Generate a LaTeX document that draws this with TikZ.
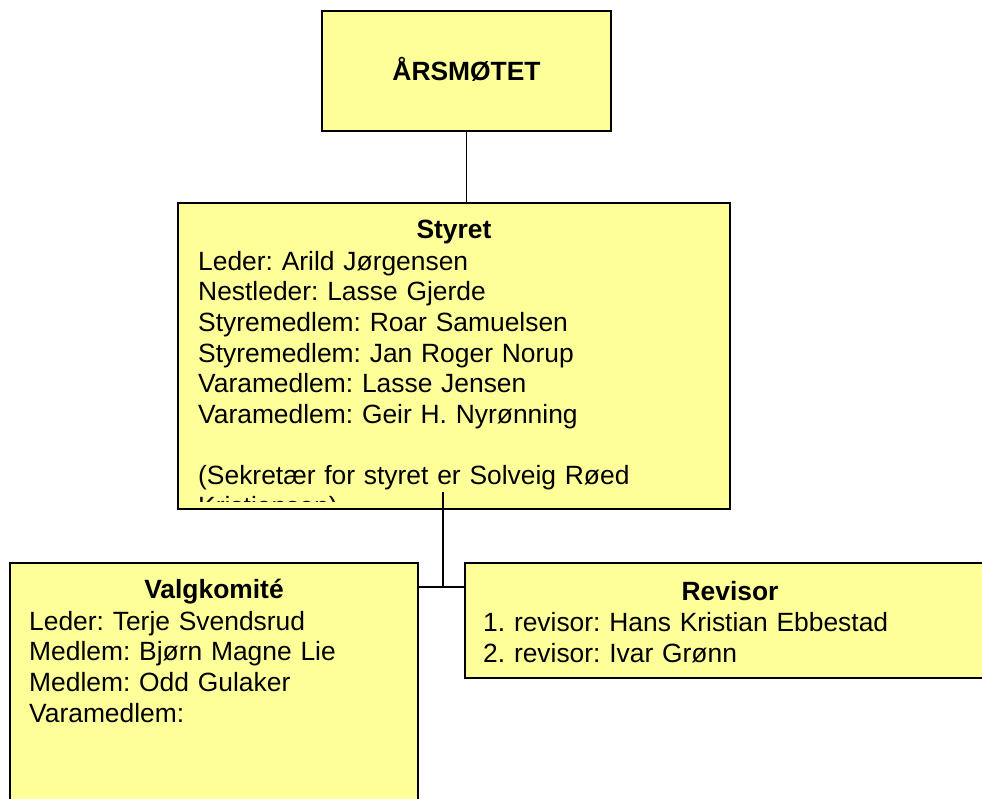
\documentclass[tikz,border=0pt]{standalone}
\usepackage{fontspec}
\setmainfont{Liberation Sans}
\frenchspacing
\usepackage{tikz}
\usetikzlibrary{positioning}
\definecolor{boxfill}{RGB}{255,255,153}
\tikzstyle{orgbox}=[rectangle, draw=black, fill=boxfill, line width=1.3pt, anchor=north west, inner sep=0pt, outer sep=0pt]
\tikzstyle{orgtitle}=[anchor=base, inner sep=0pt, font=\fontsize{26.4}{30.7}\selectfont\bfseries]
\tikzstyle{orgtext}=[anchor=base west, inner sep=0pt, align=left, font=\fontsize{26.4}{30.7}\selectfont]
\tikzstyle{link}=[draw=black, line width=1.6pt]

\begin{document}
\begin{tikzpicture}[x=1pt, y=1pt]
    \useasboundingbox (0,0) rectangle (982,-798);

    % Annual meeting.
    \node[orgbox, minimum width=289, minimum height=120, text height=18.9pt, text depth=0pt,
      font=\fontsize{26.4}{30.7}\selectfont\bfseries] (aarsmoetet) at (322,-11) {ÅRSMØTET};

    % Board.
    \node[orgbox, minimum width=552, minimum height=306] (styret) at (178,-203) {};
    \begin{scope}
      \clip ([yshift=8pt]styret.south west) rectangle (styret.north east);
      \node[orgtitle] (styrettittel) at (454,-238) {Styret};
      \node[orgtext, text width=520] (styrettekst) at (198,-270) {Leder: Arild Jørgensen\\
        Nestleder: Lasse Gjerde\\
        Styremedlem: Roar Samuelsen\\
        Styremedlem: Jan Roger Norup\\
        Varamedlem: Lasse Jensen\\
        Varamedlem: Geir H. Nyrønning\\
        ~\\
        (Sekretær for styret er Solveig Røed\\
        Kristiansen)};
    \end{scope}

    % Nomination committee.
    \node[orgbox, minimum width=408, minimum height=260] (valg) at (10,-563) {};
    \node[orgtitle] (valgtittel) at (214,-598.5) {Valgkomité};
    \node[orgtext, text width=370] (valgtekst) at (29,-630) {Leder: Terje Svendsrud\\
      Medlem: Bjørn Magne Lie\\
      Medlem: Odd Gulaker\\
      Varamedlem:};

    % Auditor.
    \node[orgbox, minimum width=540, minimum height=115] (revisor) at (465,-563) {};
    \node[orgtitle] (revisortittel) at (730,-600) {Revisor};
    \node[orgtext, text width=490] (revisortekst) at (483,-631.5) {1. revisor: Hans Kristian Ebbestad\\
      2. revisor: Ivar Grønn};

    % Lines.
    \coordinate (stem) at (443,-492);
    \coordinate (junction) at (443,-587);
    \draw[link] (aarsmoetet.south) -- (aarsmoetet.south |- styret.north);
    \draw[link] (stem) -- (junction);
    \draw[link] (valg.north east |- junction) -- (revisor.north west |- junction);
\end{tikzpicture}
\end{document}
